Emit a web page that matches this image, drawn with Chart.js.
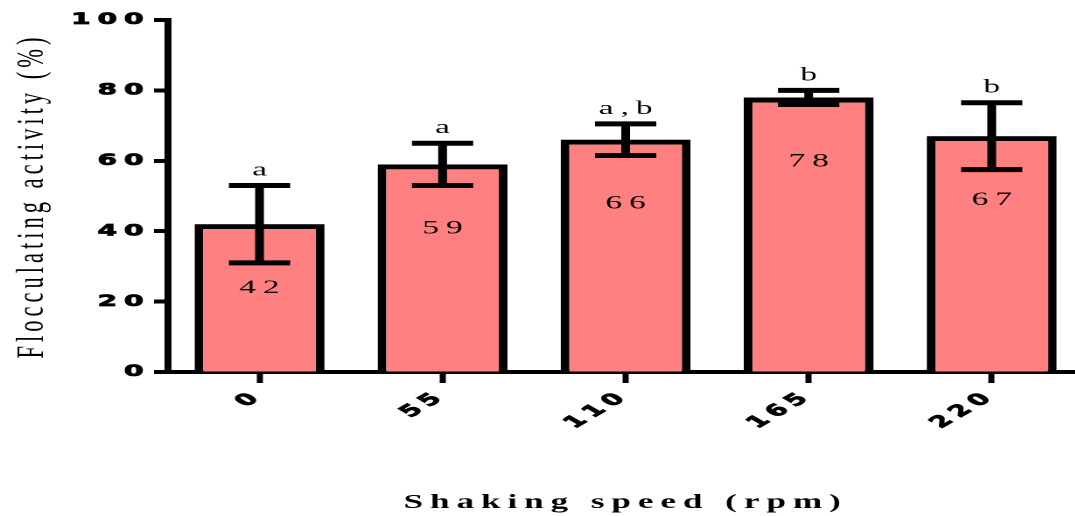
<!DOCTYPE html>
<html>
<head>
<meta charset="utf-8">
<script src="https://cdn.jsdelivr.net/npm/chart.js@4.4.1/dist/chart.umd.min.js"></script>
<style>
  html, body { margin: 0; padding: 0; background: #fff; overflow: hidden; }
  /* the source figure is stretched sideways, so stretch the canvas the same way */
  #chart { display: block; transform: scaleX(1.75); transform-origin: 0 0; }
</style>
</head>
<body>
<canvas id="chart" width="620" height="516"></canvas>
<script>
const speeds = ['0', '55', '110', '165', '220'];
const activity = [42, 59, 66, 78, 67];
const errors = [11, 6, 4.5, 2, 9.5];
const letters = ['a', 'a', 'a,b', 'b', 'b'];

const serif = '"Liberation Serif", "Times New Roman", serif';
const sans = '"DejaVu Sans", sans-serif';

// Prism style spaced-out text
const spacing = {
    id: 'spacing',
    beforeDraw(chart) { chart.ctx.letterSpacing = '4px'; }
};

const errorBars = {
    id: 'errorBars',
    afterDatasetsDraw(chart) {
        const ctx = chart.ctx;
        const y = chart.scales.y;
        const bars = chart.getDatasetMeta(0).data;
        ctx.save();
        ctx.strokeStyle = '#000';
        ctx.fillStyle = '#000';
        bars.forEach((bar, i) => {
            const hi = y.getPixelForValue(activity[i] + errors[i]);
            const lo = y.getPixelForValue(activity[i] - errors[i]);
            ctx.lineWidth = 5;
            ctx.beginPath();
            ctx.moveTo(bar.x, hi); ctx.lineTo(bar.x, lo);
            ctx.moveTo(bar.x - 17.5, hi); ctx.lineTo(bar.x + 17.5, hi);
            ctx.moveTo(bar.x - 17.5, lo); ctx.lineTo(bar.x + 17.5, lo);
            ctx.stroke();

            ctx.font = '19px ' + serif;
            ctx.textAlign = 'center';
            ctx.textBaseline = 'alphabetic';
            ctx.fillText(letters[i], bar.x + 2, hi - 10);
            ctx.textBaseline = 'middle';
            ctx.fillText(String(activity[i]), bar.x + 2, bar.y + 64);
        });
        ctx.restore();
    }
};

new Chart(document.getElementById('chart'), {
    type: 'bar',
    data: {
        labels: speeds,
        datasets: [{
            data: activity,
            backgroundColor: '#FF8080',
            borderColor: '#000',
            borderWidth: 5,
            barPercentage: 0.71,
            categoryPercentage: 1
        }]
    },
    options: {
        responsive: false,
        devicePixelRatio: 2,
        animation: false,
        layout: { padding: { top: 20, right: 1, bottom: 0, left: 0 } },
        plugins: { legend: { display: false }, tooltip: { enabled: false } },
        scales: {
            x: {
                grid: { drawOnChartArea: false, offset: false, color: '#000', tickLength: 11, tickWidth: 3.5 },
                border: { color: '#000', width: 4 },
                ticks: {
                    color: '#000', autoSkip: false, minRotation: 45, maxRotation: 45, padding: 4,
                    textStrokeColor: '#000', textStrokeWidth: 0.8,
                    font: { family: sans, size: 16, weight: 'bold' }
                },
                title: {
                    display: true, text: 'Shaking speed (rpm)', color: '#000',
                    font: { family: serif, size: 20, weight: 'bold' },
                    padding: { top: 0, bottom: 1 }
                },
                afterFit(scale) { scale.height = 144; }
            },
            y: {
                min: 0,
                max: 100,
                grid: { drawOnChartArea: false, color: '#000', tickLength: 8, tickWidth: 4 },
                border: { color: '#000', width: 4 },
                ticks: {
                    stepSize: 20, color: '#000', padding: 2,
                    textStrokeColor: '#000', textStrokeWidth: 0.8,
                    font: { family: sans, size: 16, weight: 'bold' }
                },
                title: {
                    display: true, text: 'Flocculating activity (%)', color: '#000',
                    font: { family: serif, size: 22.5 },
                    padding: { top: 5, bottom: 0 }
                },
                afterFit(scale) { scale.width = 96; }
            }
        }
    },
    plugins: [spacing, errorBars]
});
</script>
</body>
</html>
